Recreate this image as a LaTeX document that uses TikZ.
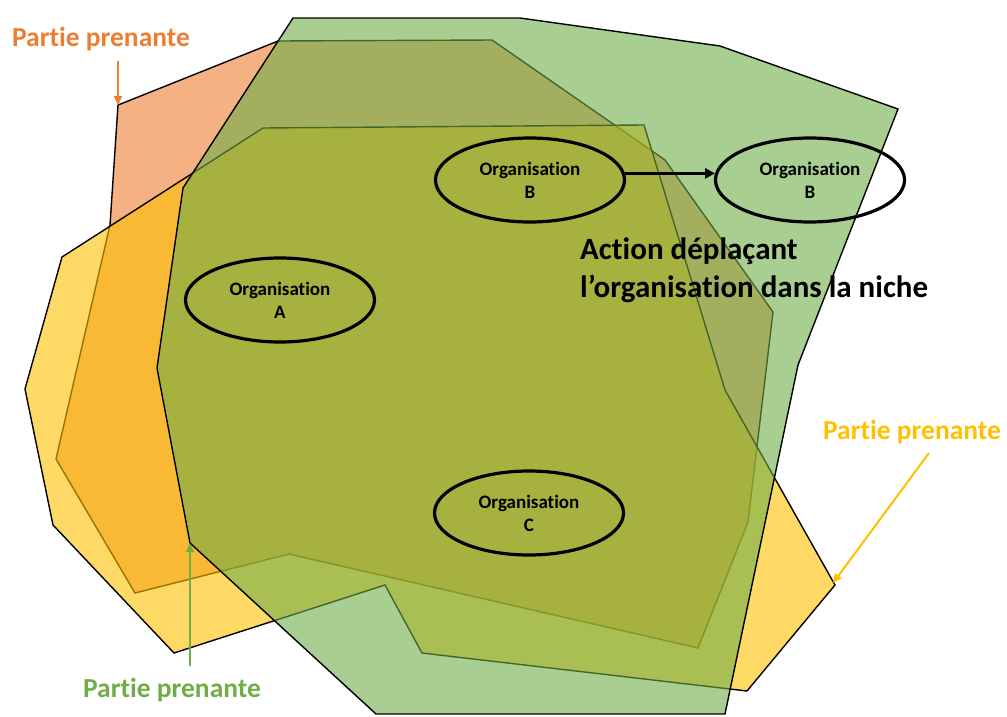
\documentclass[tikz,border=0pt]{standalone}
\usepackage{fontspec}
\setmainfont{Carlito}[Ligatures=NoCommon]
\usetikzlibrary{arrows.meta,positioning,shapes.geometric}
\definecolor{stakeorange}{HTML}{ED7D31}
\definecolor{stakegold}{HTML}{FFC000}
\definecolor{stakegreen}{HTML}{70AD47}

\begin{document}
\begin{tikzpicture}[x=1pt, y=-1pt,
  niche/.style={draw=black, line width=1.4pt, fill opacity=0.6, line join=miter},
  org/.style={draw, ellipse, line width=3.2pt, minimum width=189pt, minimum height=84pt, inner sep=0pt, align=center, font=\fontsize{19}{23}\selectfont\bfseries},
  stake/.style={font=\fontsize{27.5}{32}\selectfont\bfseries, inner sep=0pt},
  pointer/.style={line width=2pt, -{Triangle[length=9pt, width=8pt]}},
]
\useasboundingbox (0,0) rectangle (1007,716);
% niches of the three stakeholders
\draw[niche, fill=stakeorange] (118,105) -- (278,41) -- (492,40) -- (665,160) -- (773,312) -- (748,522)
  -- (698,648) -- (289,554) -- (135,593) -- (56,459) -- (110,225) -- cycle;
\draw[niche, fill=stakegold] (62,257) -- (263,128) -- (644,125) -- (725,390) -- (835,585) -- (747,691)
  -- (422,653) -- (385,585) -- (174,653) -- (53,525) -- (25,389) -- cycle;
\draw[niche, fill=stakegreen] (293,18) -- (520,18) -- (720,46) -- (898,109) -- (798,365) -- (725,714)
  -- (376,714) -- (190,543) -- (157,368) -- (183,188) -- cycle;

% organisations
\node[org] (orgA) at (280,300) {Organisation\\A};
\node[org] (orgB) at (530,180) {Organisation\\B};
\node[org] (orgBmoved) at (810,180) {Organisation\\B};
\node[org] (orgC) at (529,513) {Organisation\\C};
\draw[line width=3pt, -{Triangle[length=10pt, width=10pt]}] (orgB.4) -- (orgBmoved.176);
\node[stake, font=\fontsize{31}{38}\selectfont\bfseries, anchor=base west, align=left] (action) at (580,297)
  {Action déplaçant\\l’organisation dans la niche};

% stakeholder labels
\coordinate (orangetip) at (118,105);
\coordinate (greentip) at (190,543);
\coordinate (goldtip) at (833,583);
\node[stake, text=stakeorange] (orangelbl) at (101,39) {Partie prenante};
\node[stake, text=stakegreen] (greenlbl) at (172,690) {Partie prenante};
\node[stake, text=stakegold] (goldlbl) at (912,432) {Partie prenante};
\draw[pointer, stakeorange] (orangelbl.south -| orangetip) ++(0,10) -- (orangetip);
\draw[pointer, stakegreen] (greenlbl.north -| greentip) ++(0,-12) -- (greentip);
\draw[pointer, stakegold] (goldlbl.south) ++(17,9) -- (goldtip);
\end{tikzpicture}
\end{document}
